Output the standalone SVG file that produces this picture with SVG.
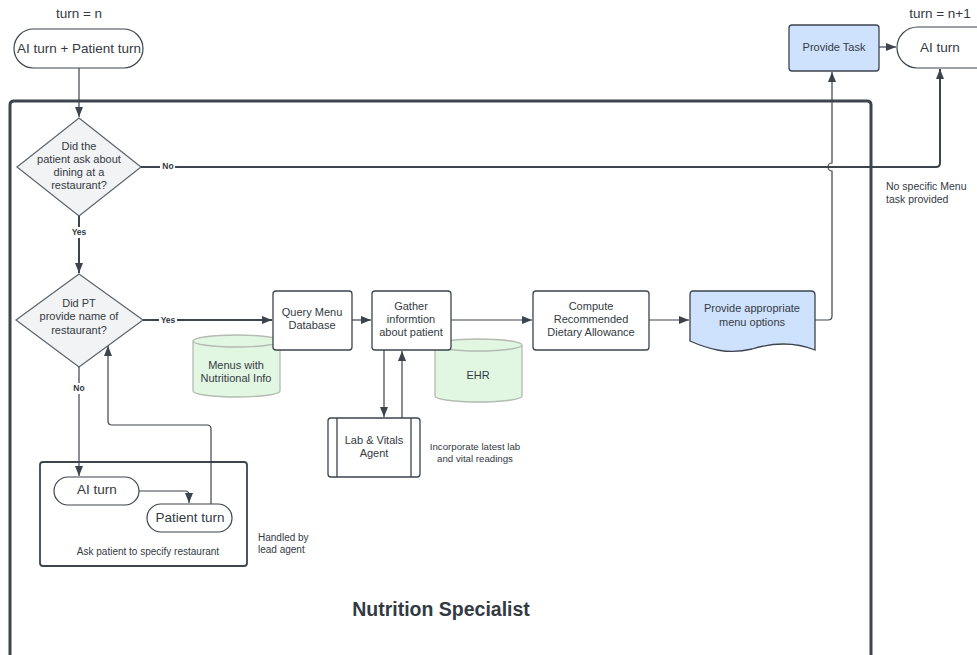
<svg xmlns="http://www.w3.org/2000/svg" width="977" height="655" viewBox="0 0 977 655">
<defs>
<marker id="ah" markerUnits="userSpaceOnUse" markerWidth="10" markerHeight="10" viewBox="0 0 10 10" refX="10" refY="5" orient="auto">
<path d="M0,1 L10,5 L0,9 Z" fill="#3d444d"/>
</marker>
<style>
text{font-family:"Liberation Sans",Arial,sans-serif;fill:#333a42;text-anchor:middle}
.box{fill:#fff;stroke:#3d444d;stroke-width:1.3}
.term{fill:#fff;stroke:#3d444d;stroke-width:1.2}
.dia{fill:#f2f3f5;stroke:#5b636b;stroke-width:1.2}
.cyl{fill:#e2f7e2;stroke:#b3bbb3;stroke-width:1.3}
.blue{fill:#cfe2fd;stroke:#3d444d;stroke-width:1.3}
.c{fill:none;stroke:#3d444d;stroke-width:1.2;marker-end:url(#ah)}
.thick{stroke-width:2}
.lbl{font-size:8.5px;font-weight:bold}
.t11{font-size:11px}
.t13{font-size:13.5px}
.t10{font-size:10px}
</style>
</defs>
<rect width="977" height="655" fill="#fff"/>

<g id="container">
<path d="M10,670 V105 Q10,101 14,101 H867 Q871,101 871,105 V670" fill="none" stroke="#3d444d" stroke-width="3"/>
<text x="441" y="616" style="font-size:19.5px;font-weight:bold">Nutrition Specialist</text>
</g>

<g id="labels-free">
<text x="79" y="18" class="t13">turn = n</text>
<text x="940" y="18" class="t13">turn = n+1</text>
<text x="886" y="190" class="t10" style="text-anchor:start;font-size:10.5px">No specific Menu</text>
<text x="886" y="203" class="t10" style="text-anchor:start;font-size:10.5px">task provided</text>
<text x="258" y="541" class="t10" style="text-anchor:start">Handled by</text>
<text x="258" y="553" class="t10" style="text-anchor:start">lead agent</text>
<text x="475" y="450" style="font-size:9.7px">Incorporate latest lab</text>
<text x="475" y="462" style="font-size:9.7px">and vital readings</text>
</g>

<g id="start">
<rect x="14" y="29" width="129" height="39" rx="19.5" class="term"/>
<text x="79" y="53" class="t13">AI turn + Patient turn</text>
</g>

<g id="decision1">
<polygon points="79,118 141,167 79,216 17,167" class="dia"/>
<text x="79" y="150" class="t11">Did the</text>
<text x="79" y="163" class="t11">patient ask about</text>
<text x="79" y="176" class="t11">dining at a</text>
<text x="79" y="189" class="t11">restaurant?</text>
</g>

<g id="decision2">
<polygon points="79,274 143,320 79,367 16,320" class="dia"/>
<text x="79" y="307" class="t11">Did PT</text>
<text x="79" y="320" class="t11">provide name of</text>
<text x="79" y="334" class="t11">restaurant?</text>
</g>

<g id="ask-box">
<rect x="40" y="462" width="207" height="104" rx="3" fill="#fff" stroke="#3d444d" stroke-width="1.8"/>
<text x="148" y="555" class="t10">Ask patient to specify restaurant</text>
</g>

<g id="ai-turn-inner">
<rect x="54" y="477" width="85" height="28" rx="14" class="term"/>
<text x="97" y="494" class="t13">AI turn</text>
</g>

<g id="patient-turn">
<rect x="147" y="504" width="85" height="28" rx="14" class="term"/>
<text x="190" y="522" class="t13">Patient turn</text>
</g>

<g id="menus-db">
<path d="M193,341 A43.5,6 0 0 1 280,341 V391 A43.5,6 0 0 1 193,391 Z" class="cyl"/>
<path d="M193,341 A43.5,6 0 0 0 280,341" class="cyl" fill="none"/>
<text x="236" y="369" class="t11">Menus with</text>
<text x="236" y="382" class="t11">Nutritional Info</text>
</g>

<g id="ehr-db">
<path d="M435,345 A43.5,6 0 0 1 522,345 V396 A43.5,6 0 0 1 435,396 Z" class="cyl"/>
<path d="M435,345 A43.5,6 0 0 0 522,345" class="cyl" fill="none"/>
<text x="478" y="379" class="t11">EHR</text>
</g>

<g id="query">
<rect x="273" y="291" width="79" height="59" rx="3" class="box"/>
<text x="312" y="316" class="t11">Query Menu</text>
<text x="312" y="329" class="t11">Database</text>
</g>

<g id="gather">
<rect x="372" y="291" width="79" height="59" rx="3" class="box"/>
<text x="411" y="310" class="t11">Gather</text>
<text x="411" y="323" class="t11">informtion</text>
<text x="411" y="336" class="t11">about patient</text>
</g>

<g id="lab-agent">
<rect x="328" y="418" width="92" height="59" rx="3" class="box"/>
<line x1="337" y1="418" x2="337" y2="477" stroke="#3d444d" stroke-width="1.3"/>
<line x1="411" y1="418" x2="411" y2="477" stroke="#3d444d" stroke-width="1.3"/>
<text x="374" y="444" class="t11">Lab &amp; Vitals</text>
<text x="374" y="457" class="t11">Agent</text>
</g>

<g id="compute">
<rect x="533" y="291" width="116" height="59" rx="3" class="box"/>
<text x="591" y="310" class="t11">Compute</text>
<text x="591" y="323" class="t11">Recommended</text>
<text x="591" y="336" class="t11">Dietary Allowance</text>
</g>

<g id="provide-menu">
<path d="M693,291 H811 Q815,291 815,295 V350 C795,342 775,342 752,349 C728,355 708,349 690,341 V295 Q690,291 693,291 Z" class="blue"/>
<text x="752" y="312" class="t11">Provide appropriate</text>
<text x="752" y="326" class="t11">menu options</text>
</g>

<g id="provide-task">
<rect x="789" y="25" width="90" height="46" rx="3" class="blue"/>
<text x="834" y="51" class="t11">Provide Task</text>
</g>

<g id="ai-turn-next">
<rect x="897" y="27" width="100" height="41" rx="20.5" class="term"/>
<text x="940" y="52" class="t13">AI turn</text>
</g>

<g id="connectors">
<path d="M79,68 V117" class="c"/>
<path d="M141,167 H936 Q940,167 940,163 V69" class="c thick"/>
<path d="M79,216 V273" class="c thick"/>
<path d="M143,320 H272" class="c thick"/>
<path d="M79,367 V476" class="c"/>
<path d="M139,491 H185 Q189,491 189,495 V503" class="c"/>
<path d="M211,504 V429 Q211,425 207,425 H112 Q108,425 108,421 V346" class="c"/>
<path d="M352,320 H371" class="c"/>
<path d="M384,350 V417" class="c"/>
<path d="M402,418 V351" class="c"/>
<path d="M451,320 H532" class="c"/>
<path d="M649,320 H689" class="c"/>
<path d="M815,320 H828 Q832,320 832,316 V171 A4,4 0 0 1 832,163 V72" class="c"/>
<path d="M879,47 H896" class="c"/>
<rect x="160" y="161" width="15" height="11" fill="#fff"/>
<text x="168" y="169" class="lbl">No</text>
<rect x="70" y="227" width="18" height="11" fill="#fff"/>
<text x="79" y="235" class="lbl">Yes</text>
<rect x="159" y="315" width="18" height="11" fill="#fff"/>
<text x="168" y="323" class="lbl">Yes</text>
<rect x="71" y="383" width="16" height="11" fill="#fff"/>
<text x="79" y="391" class="lbl">No</text>
</g>
</svg>
